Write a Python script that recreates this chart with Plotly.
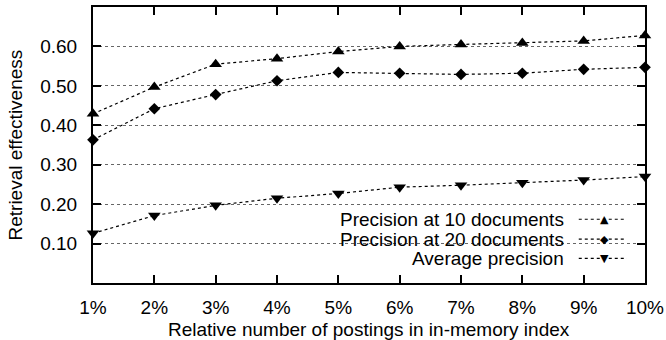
import plotly.graph_objects as go

x_labels = ["1%", "2%", "3%", "4%", "5%", "6%", "7%", "8%", "9%", "10%"]
x_vals = [1, 2, 3, 4, 5, 6, 7, 8, 9, 10]
p10 = [0.429, 0.497, 0.555, 0.569, 0.587, 0.600, 0.605, 0.609, 0.614, 0.628]
p20 = [0.363, 0.442, 0.478, 0.513, 0.534, 0.532, 0.529, 0.532, 0.542, 0.547]
avgp = [0.126, 0.171, 0.197, 0.215, 0.227, 0.243, 0.248, 0.254, 0.261, 0.270]
series_names = ["Precision at 10 documents", "Precision at 20 documents", "Average precision"]
y_ticks = [0.1, 0.2, 0.3, 0.4, 0.5, 0.6]
y_tick_labels = ["0.10", "0.20", "0.30", "0.40", "0.50", "0.60"]

FONT = "Liberation Sans, Arial, Helvetica, sans-serif"
FS = 19
symbols = ["triangle-up", "diamond", "triangle-down"]
sizes = [11, 9, 11]
glyphs = ["▲", "◆", "▼"]

L, R, T, B = 93, 21, 7, 57
W, H = 666, 340
PH = H - T - B

fig = go.Figure()
for name, ys, sym, sz in zip(series_names, [p10, p20, avgp], symbols, sizes):
    fig.add_trace(go.Scatter(
        x=x_vals, y=ys, name=name, mode="lines+markers",
        line=dict(color="black", width=1.2, dash="3px,3px"),
        marker=dict(symbol=sym, size=sz, color="black"),
        showlegend=False, cliponaxis=False,
    ))

# opaque legend box covering grid lines
fig.add_shape(type="rect", xref="paper", yref="paper", x0=0.341, x1=0.998, y0=0.004, y1=0.283,
              fillcolor="white", line=dict(width=0), layer="between")

legend_rows_y = [0.231, 0.159, 0.0895]
for name, g, yy in zip(series_names, glyphs, legend_rows_y):
    fig.add_annotation(xref="paper", yref="paper", x=0.857, y=yy, text=name,
                       showarrow=False, xanchor="right", yanchor="middle",
                       font=dict(family=FONT, size=FS, color="black"))
    fig.add_shape(type="line", xref="paper", yref="paper", x0=0.88, x1=0.967, y0=yy, y1=yy,
                  line=dict(color="black", width=1.2, dash="3px,3px"))
    fig.add_annotation(xref="paper", yref="paper", x=0.9275, y=yy, text=g,
                       showarrow=False, xanchor="center", yanchor="middle",
                       font=dict(family="DejaVu Sans", size=11, color="black"))

# axis titles
fig.add_annotation(xref="paper", yref="paper", x=0.5, y=-(H + 2 - T - PH) / PH,
                   text="Relative number of postings in in-memory index",
                   showarrow=False, xanchor="center", yanchor="bottom",
                   font=dict(family=FONT, size=FS, color="black"))
fig.add_annotation(xref="paper", yref="paper", x=-(L - 2) / (W - L - R), y=0.5,
                   text="Retrieval effectiveness", textangle=-90,
                   showarrow=False, xanchor="left", yanchor="middle",
                   font=dict(family=FONT, size=FS, color="black"))

fig.update_layout(
    width=W, height=H,
    margin=dict(l=L, r=R, t=T, b=B),
    paper_bgcolor="white", plot_bgcolor="white",
    font=dict(family=FONT, size=FS, color="black"),
    showlegend=False,
)
fig.update_xaxes(
    range=[1, 10], tickvals=x_vals, ticktext=x_labels,
    ticks="inside", ticklen=8, tickwidth=1.5, tickcolor="black",
    showline=True, linecolor="black", linewidth=2, mirror="ticks",
    showgrid=False, zeroline=False, automargin=False,
    ticklabelstandoff=6,
)
fig.update_yaxes(
    range=[0, 0.7], tickvals=y_ticks, ticktext=y_tick_labels,
    ticks="inside", ticklen=8, tickwidth=1.5, tickcolor="black",
    showline=True, linecolor="black", linewidth=2, mirror="ticks",
    showgrid=True, gridcolor="#666666", gridwidth=1, griddash="dot",
    zeroline=False, automargin=False,
    ticklabelstandoff=10,
)

fig.write_html("out.html", config={"displayModeBar": False},
               post_script="document.body.style.margin='0';document.body.style.overflow='hidden';")
